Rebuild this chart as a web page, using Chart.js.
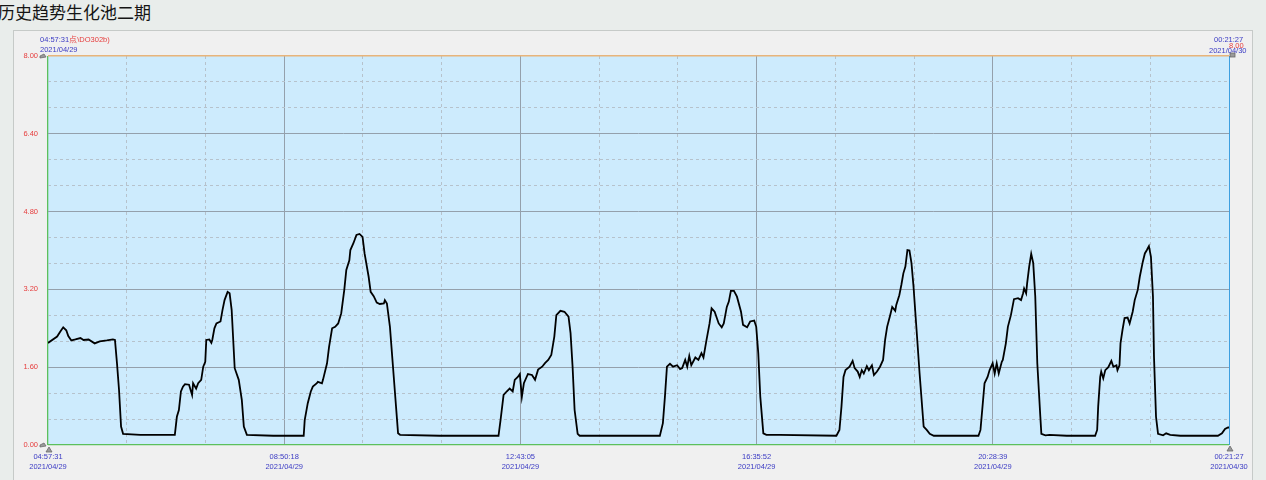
<!DOCTYPE html>
<html><head><meta charset="utf-8">
<script src="https://cdn.jsdelivr.net/npm/chart.js@4/dist/chart.umd.min.js"></script>
<style>
html,body{margin:0;padding:0;width:1266px;height:480px;overflow:hidden;background:#e9edeb;font-family:"Liberation Sans",Arial,sans-serif;}
#title{position:absolute;left:-2px;top:1px;font-size:17px;line-height:22px;font-family:"Noto Sans CJK SC",sans-serif;color:#151515;}
#panel{position:absolute;left:13px;top:30px;width:1238px;height:460px;background:#f0f0f0;border:1px solid #c6cac8;}
#wrap{position:absolute;left:0;top:0;width:1266px;height:480px;}
.lbl{position:absolute;font-size:7.5px;line-height:10px;white-space:nowrap;color:#3b3bc4;}
.red{color:#e63c3c;}
</style></head>
<body>
<div id="panel"></div>
<div id="title">历史趋势生化池二期</div>
<div id="wrap"><canvas id="c"></canvas></div>
<div class="lbl" style="left:40px;top:35px;">04:57:31<span class="red">点\DO302b)</span></div>
<div class="lbl" style="left:40px;top:45px;">2021/04/29</div>
<div class="lbl" style="left:1214px;top:35px;">00:21:27</div>
<div class="lbl" style="left:1209px;top:46px;">2021/04/30</div>
<div class="lbl red" style="left:1229px;top:41px;">8.00</div>
<script>
// ---- data ----
const startTime = "04:57:31";
const spanMinutes = 1163.93; // 04:57:31 (04/29) -> 00:21:27 (04/30)
const xTickTimes = ["04:57:31","08:50:18","12:43:05","16:35:52","20:28:39","00:21:27"];
const xTickDates = ["2021/04/29","2021/04/29","2021/04/29","2021/04/29","2021/04/29","2021/04/30"];
const yTickLabels = ["0.00","1.60","3.20","4.80","6.40","8.00"];
const yMax = 8;
// minutes since start
const timeMin = [0,9,12,15,18,20,23,27,32,35,40,46,51,58,64,66,68,70,72,74,91,125,127,129,131,133,135,139,142,143,146,148,151,153,155,156,159,161,162,164,166,170,172,174,177,179,181,184,188,191,193,196,222,238,
252,253,256,259,261,265,266,270,271,275,277,280,283,286,289,292,294,297,298,301,304,307,310,312,316,318,321,324,327,331,332,334,337,340,343,345,347,386,
444,446,449,452,455,458,460,463,465,467,469,473,477,480,483,487,490,493,496,499,501,505,509,513,515,517,519,522,524,
603,606,608,610,613,616,620,623,625,628,630,632,634,638,641,644,646,649,652,654,657,661,664,666,669,671,673,676,679,683,685,689,692,696,698,700,702,705,708,721,
777,780,782,784,786,790,793,795,798,800,802,804,807,809,812,814,817,820,823,825,827,830,832,835,836,839,841,843,845,847,849,851,853,856,859,863,866,869,873,
917,919,921,923,926,928,931,933,935,937,940,941,944,946,949,952,956,959,961,962,964,965,967,969,971,973,975,978,979,983,987,1004,
1032,1034,1035,1037,1038,1040,1042,1045,1048,1050,1053,1054,1056,1057,1059,1061,1064,1066,1069,1071,1074,1076,1079,1081,1083,1085,1087,1089,1090,1092,1094,1099,1102,1106,1116,1153,1157,1160,1163,1164];
const doValues = [2.10,2.23,2.33,2.42,2.36,2.24,2.15,2.17,2.20,2.16,2.17,2.09,2.13,2.15,2.17,2.16,1.68,1.13,0.38,0.23,0.21,0.21,0.58,0.72,1.10,1.20,1.25,1.24,1.03,1.27,1.16,1.27,1.34,1.61,1.71,2.16,2.17,2.10,2.17,2.40,2.50,2.54,2.78,2.98,3.15,3.12,2.78,1.58,1.34,0.93,0.38,0.21,0.19,0.19,
0.19,0.51,0.86,1.10,1.20,1.27,1.30,1.27,1.34,1.68,2.02,2.40,2.43,2.50,2.71,3.19,3.60,3.80,4.01,4.15,4.32,4.34,4.28,3.94,3.46,3.15,3.06,2.93,2.90,2.91,2.98,2.91,2.43,1.61,0.79,0.24,0.21,0.19,
0.19,0.51,1.03,1.10,1.16,1.10,1.34,1.40,1.46,0.99,1.27,1.46,1.44,1.34,1.55,1.61,1.69,1.75,1.85,2.23,2.67,2.76,2.74,2.64,2.30,1.61,0.72,0.23,0.19,
0.19,0.45,0.99,1.61,1.67,1.61,1.64,1.56,1.58,1.75,1.61,1.83,1.64,1.80,1.75,1.89,1.80,2.16,2.50,2.81,2.74,2.50,2.42,2.50,2.84,2.95,3.17,3.17,3.05,2.74,2.47,2.42,2.54,2.56,2.43,1.89,0.99,0.24,0.21,0.21,
0.19,0.31,0.79,1.40,1.54,1.61,1.73,1.58,1.51,1.40,1.54,1.47,1.62,1.54,1.64,1.44,1.51,1.61,1.75,2.16,2.43,2.67,2.84,2.76,2.88,3.08,3.29,3.53,3.67,4.01,4.00,3.74,3.26,2.37,1.47,0.38,0.31,0.23,0.19,
0.19,0.31,0.79,1.27,1.40,1.54,1.68,1.47,1.68,1.47,1.71,1.75,2.09,2.43,2.67,3.00,3.02,2.98,3.12,3.22,3.12,3.33,3.67,3.93,3.74,3.05,1.68,0.58,0.23,0.20,0.21,0.19,
0.19,0.31,0.79,1.40,1.51,1.37,1.54,1.60,1.73,1.61,1.64,1.54,1.64,2.09,2.37,2.61,2.62,2.50,2.74,2.98,3.19,3.46,3.77,3.94,4.01,4.09,3.87,3.05,1.82,0.58,0.23,0.20,0.24,0.21,0.19,0.19,0.24,0.33,0.36,0.36];

const points = timeMin.map((t,i)=>({x:t,y:doValues[i]}));
const NX = 15, NY = 15; // grid divisions (major every 3)

const plotBg = {
  id:'plotBg',
  beforeDraw(chart){
    const {ctx, chartArea:a} = chart;
    ctx.save();
    ctx.fillStyle = '#cdebfd';
    ctx.fillRect(a.left, a.top, a.right-a.left, a.bottom-a.top);
    ctx.restore();
  },
  afterDraw(chart){
    const {ctx, chartArea:a} = chart;
    ctx.save();
    ctx.fillStyle = '#9a9a9a';
    ctx.strokeStyle = '#6a6a6a';
    ctx.lineWidth = 0.8;
    const flag = (x,y)=>{ ctx.beginPath(); ctx.moveTo(x,y); ctx.lineTo(x+4,y-2); ctx.lineTo(x+6,y+1); ctx.lineTo(x,y+2); ctx.closePath(); ctx.fill(); ctx.stroke(); };
    flag(a.left-8, a.top);
    flag(a.left-8, a.bottom);
    const tri = (x,y)=>{ ctx.beginPath(); ctx.moveTo(x,y); ctx.lineTo(x+3,y+5); ctx.lineTo(x-3,y+5); ctx.closePath(); ctx.fill(); ctx.stroke(); };
    tri(a.left+1, a.bottom+2);
    tri(a.right+1, a.bottom+1);
    ctx.fillRect(a.right+1, a.top-3, 5, 4); ctx.strokeRect(a.right+1, a.top-3, 5, 4);
    ctx.restore();
  }
};

function gridColor(isX){
  return (c)=>{
    const i = c.index;
    if (i === 0) return '#5cc05c';
    if (isX && i === NX) return '#3d9fe0';
    if (!isX && i === NY) return '#e8b47a';
    return (i % 3 === 0) ? '#94a0ac' : '#b6c2cc';
  };
}
function gridWidth(isX){
  return (c)=>{
    const i = c.index;
    if (!isX && i === NY) return 1.6;
    if (i === 0) return 1.3;
    return 1;
  };
}
const dashFn = (c)=> (c.index % 3 === 0) ? [] : [3,3];

new Chart(document.getElementById('c'), {
  type:'line',
  data:{ datasets:[{ data:points, borderColor:'#000000', borderWidth:1.8, pointRadius:0, tension:0, fill:false }] },
  plugins:[plotBg],
  options:{
    responsive:true, maintainAspectRatio:false, animation:false,
    layout:{ padding:{ top:56, right:37, left:0, bottom:0 } },
    plugins:{ legend:{display:false}, tooltip:{enabled:false} },
    scales:{
      x:{
        type:'linear', min:0, max:spanMinutes,
        afterBuildTicks(s){ s.ticks = Array.from({length:NX+1},(_,k)=>({value:k*spanMinutes/NX})); },
        afterFit(s){ s.height = 35; },
        grid:{ drawTicks:false, color:gridColor(true), lineWidth:gridWidth(true) },
        border:{ display:false, dash:dashFn },
        ticks:{ autoSkip:false, maxRotation:0, padding:7, color:'#3b3bc4',
          font:{ size:7.5, family:'"Liberation Sans", Arial, sans-serif', lineHeight:1.33 },
          callback(v,i){ return (i % 3 === 0) ? [xTickTimes[i/3], xTickDates[i/3]] : ''; } }
      },
      y:{
        min:0, max:yMax,
        afterBuildTicks(s){ s.ticks = Array.from({length:NY+1},(_,k)=>({value:k*yMax/NY})); },
        afterFit(s){ s.width = 48; },
        grid:{ drawTicks:false, color:gridColor(false), lineWidth:gridWidth(false) },
        border:{ display:false, dash:dashFn },
        ticks:{ autoSkip:false, padding:10, color:'#e63c3c',
          font:{ size:7.5, family:'"Liberation Sans", Arial, sans-serif' },
          callback(v,i){ return (i % 3 === 0) ? yTickLabels[i/3] : ''; } }
      }
    }
  }
});
</script>
</body></html>
